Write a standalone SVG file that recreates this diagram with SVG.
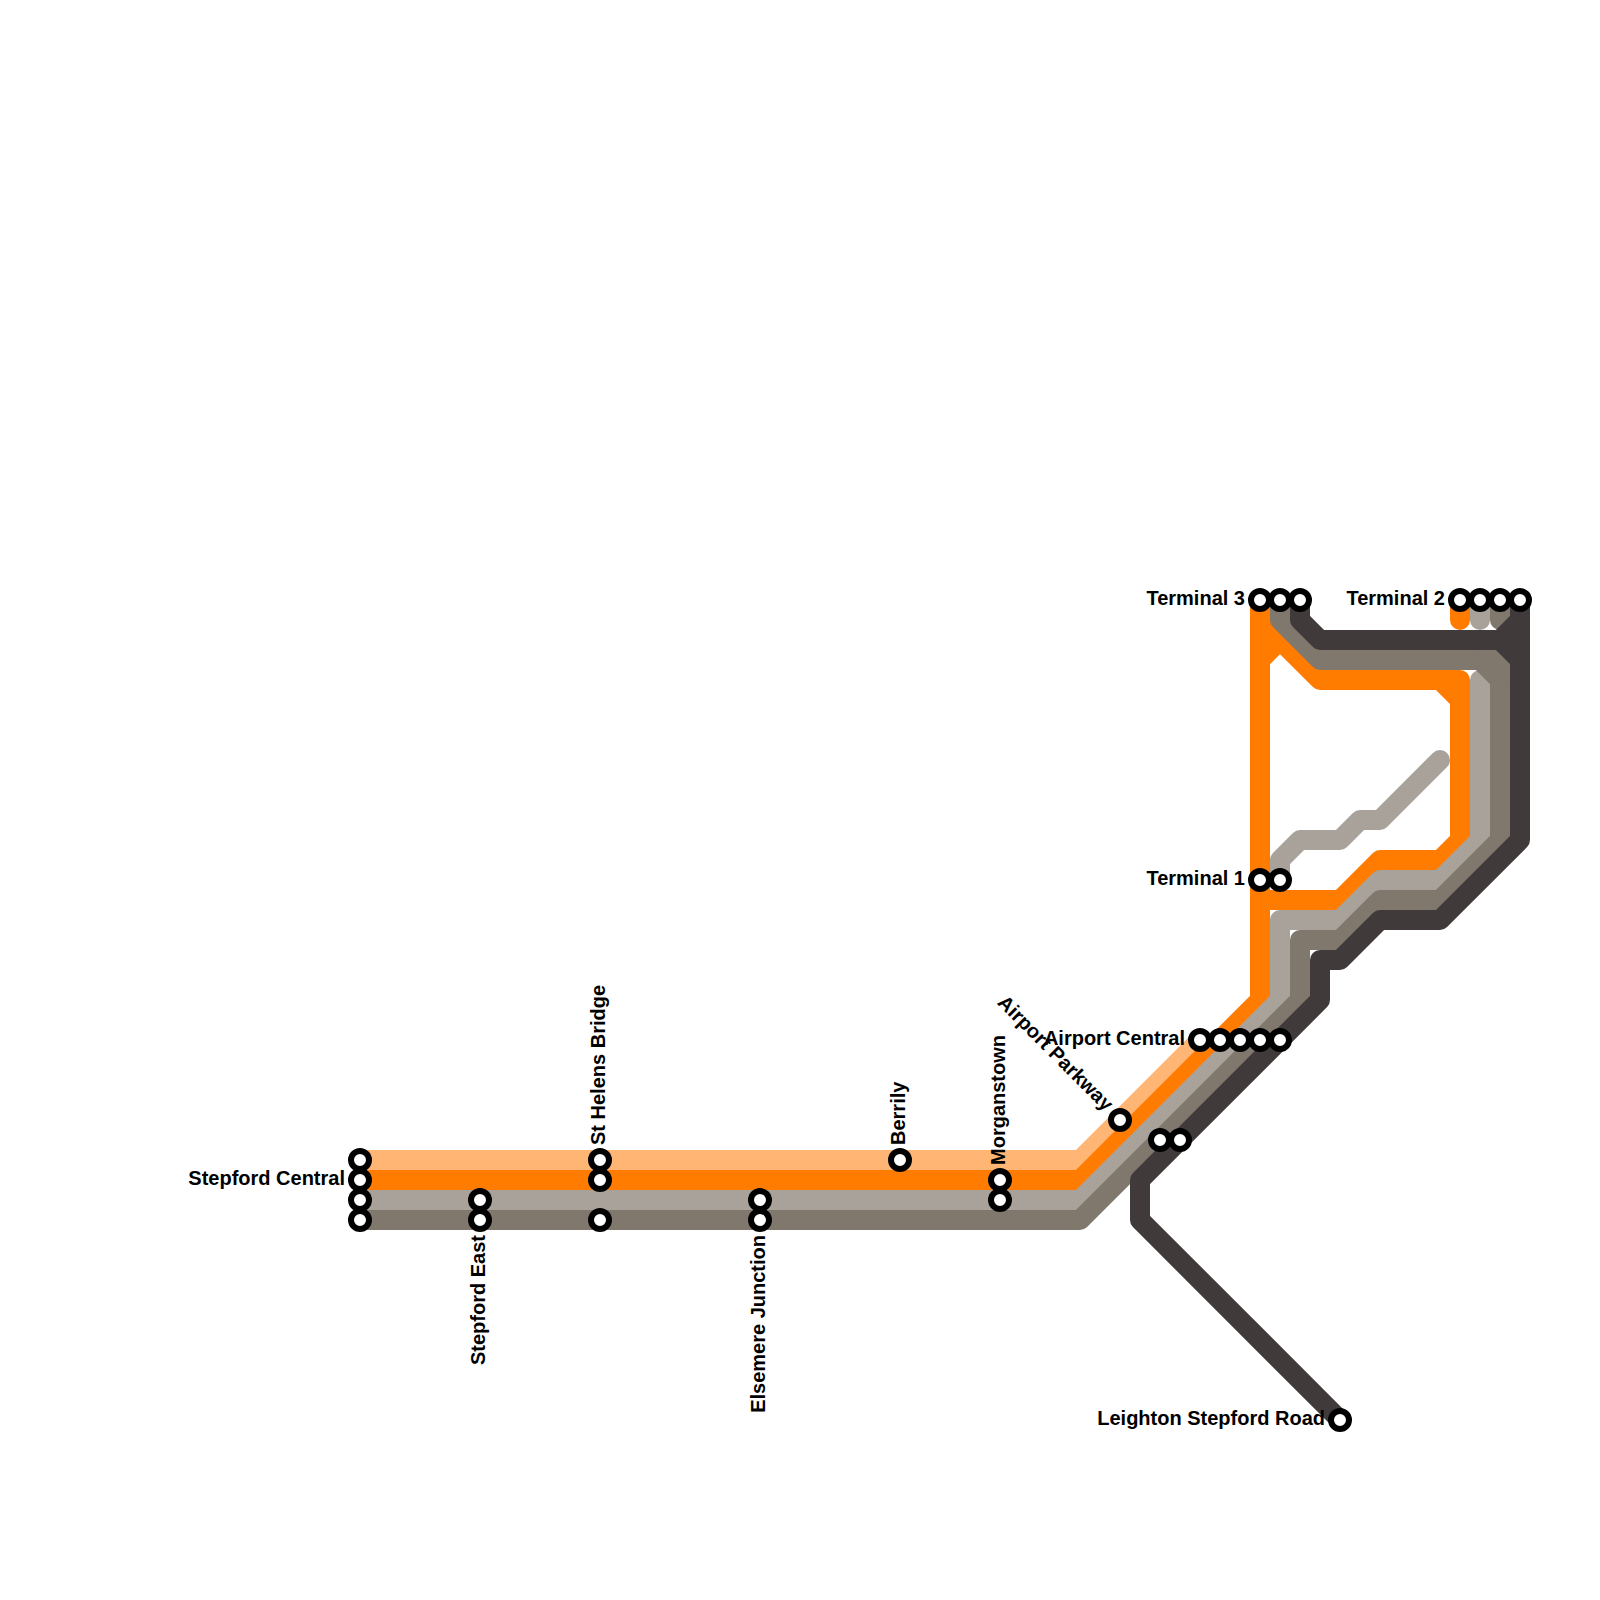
<svg xmlns="http://www.w3.org/2000/svg" width="1600" height="1600" viewBox="0 0 1600 1600">
<style>
.l{fill:none;stroke-width:20;stroke-linejoin:round;stroke-linecap:round}
.lo{stroke:#ffb574}.o{stroke:#ff7c00}.g{stroke:#a9a29b}.b{stroke:#80776d}.d{stroke:#413a3a}
.s{fill:#fff;stroke:#000;stroke-width:6}
text{font-family:"Liberation Sans",Arial,sans-serif;font-weight:700;font-size:20px;fill:#000}
.e{text-anchor:end}
</style>
<rect width="1600" height="1600" fill="#fff"/>
<g id="connectors">
<path class="l lo" d="M360 1160H1080L1200 1040"/>
<path class="l o" d="M360 1180H1080L1260 1000V600"/>
<path class="l o" d="M1260 620L1320 680H1440L1460 700V840L1440 860H1380L1340 900H1260"/>
<path class="l o" d="M1260 660L1280 640"/>
<path class="l o" d="M1440 680H1460V700"/>
<path class="l o" d="M1460 600V620"/>
<path class="l g" d="M360 1200H1080L1280 1000V920H1340L1380 880H1440L1480 840V680"/>
<path class="l g" d="M1480 600V620"/>
<path class="l g" d="M1280 880V860L1300 840H1340L1360 820H1380L1440 760"/>
<path class="l b" d="M360 1220H1080L1300 1000V940H1340L1380 900H1440L1500 840V680L1480 660H1320L1280 620V600"/>
<path class="l b" d="M1480 660H1500V680"/>
<path class="l b" d="M1500 600V620"/>
<path class="l d" d="M1300 600V620L1320 640H1500L1520 620"/>
<path class="l d" d="M1500 640L1520 660"/>
<path class="l d" d="M1520 600V840L1440 920H1380L1340 960H1320V1000L1140 1180V1220L1340 1420"/>
</g>
<g id="stepford-central"><circle class="s" cx="360" cy="1160" r="9"/><circle class="s" cx="360" cy="1180" r="9"/><circle class="s" cx="360" cy="1200" r="9"/><circle class="s" cx="360" cy="1220" r="9"/><text class="e" x="345" y="1185">Stepford Central</text></g>
<g id="stepford-east"><circle class="s" cx="480" cy="1200" r="9"/><circle class="s" cx="480" cy="1220" r="9"/><text class="e" transform="translate(485 1235) rotate(-90)">Stepford East</text></g>
<g id="st-helens-bridge"><circle class="s" cx="600" cy="1160" r="9"/><circle class="s" cx="600" cy="1180" r="9"/><circle class="s" cx="600" cy="1220" r="9"/><text transform="translate(605 1145) rotate(-90)">St Helens Bridge</text></g>
<g id="elsemere-junction"><circle class="s" cx="760" cy="1200" r="9"/><circle class="s" cx="760" cy="1220" r="9"/><text class="e" transform="translate(765 1235) rotate(-90)">Elsemere Junction</text></g>
<g id="berrily"><circle class="s" cx="900" cy="1160" r="9"/><text transform="translate(905 1145) rotate(-90)">Berrily</text></g>
<g id="morganstown"><circle class="s" cx="1000" cy="1180" r="9"/><circle class="s" cx="1000" cy="1200" r="9"/><text transform="translate(1005 1165) rotate(-90)">Morganstown</text></g>
<g id="airport-parkway"><circle class="s" cx="1120" cy="1120" r="9"/><text class="e" transform="translate(1105 1112) rotate(45)">Airport Parkway</text></g>
<g id="unnamed-stop"><circle class="s" cx="1160" cy="1140" r="9"/><circle class="s" cx="1180" cy="1140" r="9"/></g>
<g id="airport-central"><circle class="s" cx="1200" cy="1040" r="9"/><circle class="s" cx="1220" cy="1040" r="9"/><circle class="s" cx="1240" cy="1040" r="9"/><circle class="s" cx="1260" cy="1040" r="9"/><circle class="s" cx="1280" cy="1040" r="9"/><text class="e" x="1185" y="1045">Airport Central</text></g>
<g id="terminal-1"><circle class="s" cx="1260" cy="880" r="9"/><circle class="s" cx="1280" cy="880" r="9"/><text class="e" x="1245" y="885">Terminal 1</text></g>
<g id="terminal-3"><circle class="s" cx="1260" cy="600" r="9"/><circle class="s" cx="1280" cy="600" r="9"/><circle class="s" cx="1300" cy="600" r="9"/><text class="e" x="1245" y="605">Terminal 3</text></g>
<g id="terminal-2"><circle class="s" cx="1460" cy="600" r="9"/><circle class="s" cx="1480" cy="600" r="9"/><circle class="s" cx="1500" cy="600" r="9"/><circle class="s" cx="1520" cy="600" r="9"/><text class="e" x="1445" y="605">Terminal 2</text></g>
<g id="leighton-stepford-road"><circle class="s" cx="1340" cy="1420" r="9"/><text class="e" x="1325" y="1425">Leighton Stepford Road</text></g>
</svg>
